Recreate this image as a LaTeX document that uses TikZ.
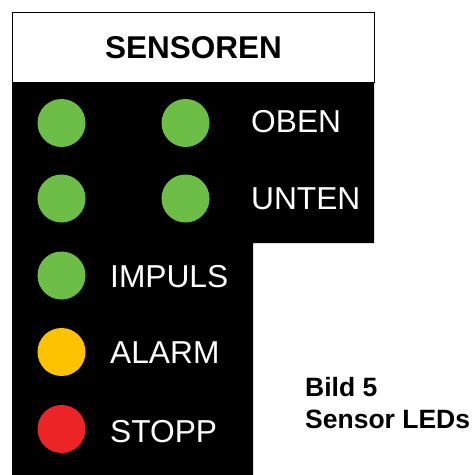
\documentclass[tikz,border=0pt]{standalone}
\usepackage{fontspec}
\setmainfont{Liberation Sans}
\usepackage{xcolor}
\usetikzlibrary{positioning}
\definecolor{ledgreen}{RGB}{108,190,70}
\definecolor{ledyellow}{RGB}{255,194,0}
\definecolor{ledred}{RGB}{236,36,38}
\begin{document}
\begin{tikzpicture}[x=1pt, y=-1pt,
    led/.style={circle, minimum size=48pt, inner sep=0pt},
    lbl/.style={anchor=base west, inner sep=0pt, text=white, font=\fontsize{31.7}{33}\selectfont}]
    \useasboundingbox (0,0) rectangle (474,475);

    % Panel
    \fill[black] (12,83) -- (374,83) -- (374,243) -- (253,243) -- (253,475) -- (12,475) -- cycle;
    \node[draw=black, line width=1.5pt, fill=white, minimum width=362pt, minimum height=70pt, inner sep=0pt,
          font=\bfseries\fontsize{31.5}{33}\selectfont] (title) at (193.5,47.5) {SENSOREN};

    % LEDs
    \node[led, fill=ledgreen] (obenA) at (61.5,123) {};
    \node[led, fill=ledgreen] (obenB) at (185.5,123) {};
    \node[led, fill=ledgreen] (untenA) at (61.5,198.5) {};
    \node[led, fill=ledgreen] (untenB) at (185.5,198.5) {};
    \node[led, fill=ledgreen] (impuls) at (61.5,275.5) {};
    \node[led, fill=ledyellow] (alarm) at (61.5,352) {};
    \node[led, fill=ledred] (stopp) at (61.5,429) {};

    % Labels
    \node[lbl] (obenT) at (251,132) {OBEN};
    \node[lbl] (untenT) at (251,209) {UNTEN};
    \node[lbl] (impulsT) at (110,287) {IMPULS};
    \node[lbl] (alarmT) at (110,363) {ALARM};
    \node[lbl] (stoppT) at (110,442) {STOPP};

    % Caption
    \node[anchor=base west, inner sep=0pt, font=\bfseries\fontsize{26.5}{32}\selectfont] (bild) at (305,396) {Bild 5};
    \node[anchor=base west, inner sep=0pt, font=\bfseries\fontsize{26.5}{32}\selectfont] (caption) at (305,428) {Sensor LEDs};
\end{tikzpicture}
\end{document}
